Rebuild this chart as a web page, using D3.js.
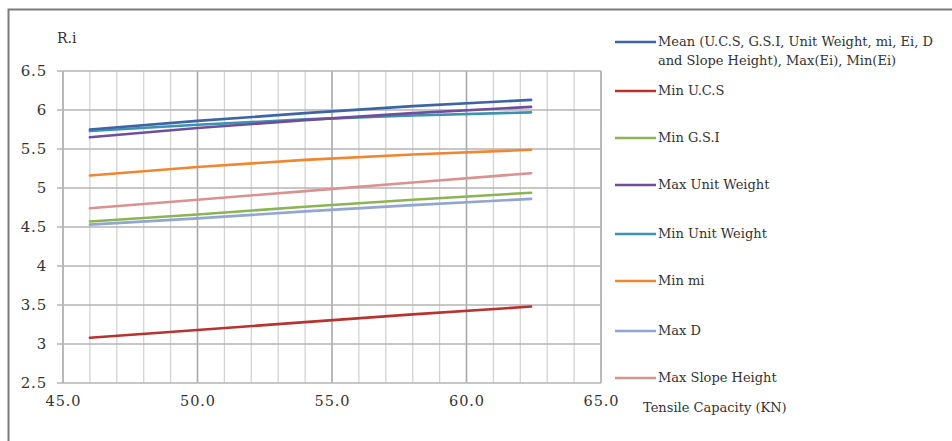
<!DOCTYPE html>
<html><head><meta charset="utf-8">
<script src="https://cdn.jsdelivr.net/npm/d3@7"></script>
<style>
body{margin:0;background:#fff;}
text{font-family:"DejaVu Serif","Liberation Serif",serif;fill:#333;}
</style></head>
<body><svg id="c" width="952" height="441"></svg>
<script>
const xValues = [46.0, 50.0, 54.0, 58.0, 62.4];
const seriesNames = [
  "Mean (U.C.S, G.S.I, Unit Weight, mi, Ei, D|and Slope Height), Max(Ei), Min(Ei)",
  "Min U.C.S",
  "Min G.S.I",
  "Max Unit Weight",
  "Min Unit Weight",
  "Min mi",
  "Max D",
  "Max Slope Height"
];
const meanVals = [5.75, 5.86, 5.96, 6.05, 6.13];
const minUcsVals = [3.08, 3.18, 3.28, 3.38, 3.48];
const minGsiVals = [4.57, 4.66, 4.76, 4.85, 4.94];
const maxUnitWeightVals = [5.65, 5.77, 5.87, 5.96, 6.04];
const minUnitWeightVals = [5.73, 5.81, 5.88, 5.93, 5.97];
const minMiVals = [5.16, 5.27, 5.36, 5.43, 5.49];
const maxDVals = [4.53, 4.61, 4.70, 4.78, 4.86];
const maxSlopeHeightVals = [4.74, 4.85, 4.96, 5.07, 5.19];
const seriesColors = ["#3e64a6", "#b83330", "#8db454", "#6f4e9c", "#3c93b0", "#f0862f", "#91a6d2", "#d99290"];
const xTicks = [45, 50, 55, 60, 65];
const yTicks = [2.5, 3, 3.5, 4, 4.5, 5, 5.5, 6, 6.5];

const allVals = [meanVals, minUcsVals, minGsiVals, maxUnitWeightVals, minUnitWeightVals, minMiVals, maxDVals, maxSlopeHeightVals];
const drawOrder = [1, 6, 2, 7, 5, 4, 3, 0];

const svg = d3.select("#c");
svg.append("rect").attr("x", 8.5).attr("y", 9.5).attr("width", 1000).attr("height", 1000)
  .attr("fill", "none").attr("stroke", "#7a7a7a").attr("stroke-width", 2);

const x = d3.scaleLinear().domain([45, 65]).range([63, 601]);
const y = d3.scaleLinear().domain([2.5, 6.5]).range([383, 71]);

const g = svg.append("g");
g.selectAll("line.vmin").data(d3.range(45, 66, 1)).join("line")
  .attr("x1", d => x(d)).attr("x2", d => x(d)).attr("y1", y(6.5)).attr("y2", y(2.5))
  .attr("stroke", d => d % 5 === 0 ? "#a8a8a8" : "#d3d3d3")
  .attr("stroke-width", d => d % 5 === 0 ? 1.6 : 1.3);
g.selectAll("line.h").data(yTicks).join("line")
  .attr("x1", x(45) - 6).attr("x2", x(65)).attr("y1", d => y(d)).attr("y2", d => y(d))
  .attr("stroke", "#b4b4b4").attr("stroke-width", 1.3);

const yAxis = d3.axisLeft(y).tickValues(yTicks).tickFormat(d3.format("")).tickSize(0).tickPadding(16);
const ya = svg.append("g").attr("transform", `translate(${x(45)},0)`).call(yAxis);
ya.select(".domain").remove();
ya.selectAll("text").attr("font-size", 15).attr("font-family", null).attr("fill", "#333")
  .style("letter-spacing", "0.8px");

const xAxis = d3.axisBottom(x).tickValues(xTicks).tickFormat(d3.format(".1f")).tickSize(0).tickPadding(13);
const xa = svg.append("g").attr("transform", `translate(0,${y(2.5)})`).call(xAxis);
xa.select(".domain").remove();
xa.selectAll("text").attr("font-size", 14.5).attr("font-family", null).attr("fill", "#333")
  .style("letter-spacing", "0.9px");

svg.append("text").attr("x", 57).attr("y", 43).attr("font-size", 14).text("R.i");
svg.append("text").attr("x", 643).attr("y", 412).attr("font-size", 13).text("Tensile Capacity (KN)");

const line = d3.line().x((d, i) => x(xValues[i])).y(d => y(d));
drawOrder.forEach(si => {
  svg.append("path").datum(allVals[si]).attr("d", line)
    .attr("fill", "none").attr("stroke", seriesColors[si]).attr("stroke-width", 2.6)
    .attr("stroke-linecap", "round");
});

const legendY = [42, 91, 138, 185, 234, 281, 331, 378];
seriesNames.forEach((name, i) => {
  const ly = legendY[i];
  svg.append("line").attr("x1", 615).attr("x2", 656).attr("y1", ly).attr("y2", ly)
    .attr("stroke", seriesColors[i]).attr("stroke-width", 2.6);
  const parts = name.split("|");
  parts.forEach((p, k) => {
    svg.append("text").attr("x", 658).attr("y", ly + 4 + k * 19).attr("font-size", 13).text(p);
  });
});
</script></body></html>
